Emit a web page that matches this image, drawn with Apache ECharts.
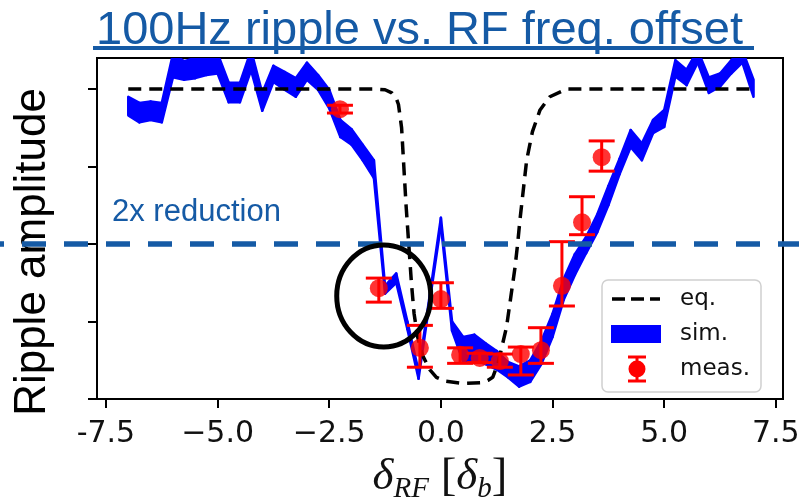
<!DOCTYPE html>
<html>
<head>
<meta charset="utf-8">
<script src="https://cdn.jsdelivr.net/npm/echarts@6/dist/echarts.min.js"></script>
<style>
  html, body { margin: 0; padding: 0; background: #fff; }
  #chart { width: 799px; height: 503px; }
</style>
</head>
<body>
<div id="chart"></div>
<script>
// Simulated ripple band (lower / upper envelope) vs RF detuning
const simX = [-7.0, -6.75, -6.5, -6.25, -6.0, -5.75, -5.5, -5.25, -5.0, -4.75, -4.5, -4.25, -4.0, -3.75, -3.5, -3.25,
  -3.0, -2.75, -2.5, -2.25, -2.0, -1.75, -1.5, -1.25, -1.0, -0.75, -0.5, -0.25, 0.0, 0.25, 0.5, 0.75, 1.0, 1.25,
  1.5, 1.75, 2.0, 2.25, 2.5, 2.75, 3.0, 3.25, 3.5, 3.75, 4.0, 4.25, 4.5, 4.75, 5.0, 5.25, 5.5, 5.75, 6.0, 6.25,
  6.5, 6.75, 7.0];
const simLow = [3.66, 3.57, 3.60, 3.57, 4.15, 4.12, 4.14, 4.18, 4.20, 3.83, 3.83, 4.24, 3.72, 4.09, 3.99, 3.90,
  4.12, 3.99, 3.75, 3.38, 3.28, 3.08, 2.85, 1.36, 1.50, 0.90, 0.26, 1.26, 2.24, 0.88, 0.48, 0.50, 0.45, 0.38,
  0.28, 0.16, 0.22, 0.45, 0.80, 1.28, 1.60, 1.88, 2.15, 2.50, 2.90, 3.25, 3.08, 3.43, 3.51, 4.16, 4.05, 4.34, 3.95, 4.03,
  4.20, 4.34, 3.90];
const simHigh = [3.90, 3.82, 3.84, 3.82, 4.45, 4.36, 4.40, 4.46, 4.46, 4.08, 4.08, 4.50, 3.95, 4.30, 4.22, 4.14,
  4.34, 4.18, 3.99, 3.60, 3.48, 3.28, 3.08, 1.46, 1.62, 1.00, 0.36, 1.34, 2.34, 1.00, 0.80, 0.83, 0.72, 0.62,
  0.48, 0.42, 0.50, 0.75, 1.10, 1.55, 1.87, 2.09, 2.38, 2.75, 3.10, 3.47, 3.30, 3.60, 3.73, 4.37, 4.25, 4.50, 4.15, 4.20,
  4.37, 4.50, 4.12];

// Equilibrium (analytic) curve
const eqX = [-7.0, -1.5, -1.25, -1.1, -1.0, -0.95, -0.88, -0.83, -0.78, -0.72, -0.66, -0.6, -0.52, -0.4, -0.25, -0.1,
  0.1, 0.5, 0.9, 1.05, 1.16, 1.28, 1.47, 1.66, 1.72, 1.77, 1.92, 2.05, 2.22, 2.44, 2.82, 7.0];
const eqY = [4.0, 4.0, 3.99, 3.95, 3.88, 3.8, 3.5, 3.0, 2.5, 2.0, 1.5, 1.1, 0.8, 0.55, 0.38, 0.28,
  0.23, 0.2, 0.21, 0.24, 0.28, 0.46, 0.93, 1.7, 2.01, 2.31, 3.08, 3.45, 3.73, 3.9, 4.0, 4.0];

// Measurements with error bars
const measX = [-2.26, -1.39, -0.47, 0.0, 0.43, 0.87, 1.32, 1.79, 2.24, 2.71, 3.16, 3.6];
const measY = [3.74, 1.43, 0.66, 1.29, 0.57, 0.53, 0.49, 0.58, 0.63, 1.46, 2.28, 3.12];
const measLo = [3.69, 1.25, 0.41, 1.17, 0.46, 0.47, 0.41, 0.31, 0.46, 1.20, 2.12, 2.94];
const measHi = [3.79, 1.56, 0.95, 1.50, 0.66, 0.59, 0.58, 0.67, 0.92, 2.03, 2.61, 3.33];

// Axis ticks and reference level
const xTicks = [-7.5, -5.0, -2.5, 0.0, 2.5, 5.0, 7.5];
const yTicks = [0, 1, 2, 3, 4];
const halfLevel = 2;          // "2x reduction" level (plateau = 4)
const circledPoint = [-1.28, 1.33];

const BLUE = '#0000ff';
const RED = '#ff0000';
const NAVY = '#155aa5';

const chart = echarts.init(document.getElementById('chart'), null, { renderer: 'canvas' });

function tickLabel(v) {
  if (v === -7.5) return '-7.5';
  if (v < 0) return '\u2212' + Math.abs(v).toFixed(1);
  return v.toFixed(1);
}

const option = {
  animation: false,
  backgroundColor: '#fff',
  title: {
    text: '100Hz ripple vs. RF freq. offset',
    left: 91, top: 3,
    textStyle: { fontFamily: 'Liberation Sans', fontSize: 47, fontWeight: 'normal', color: NAVY }
  },
  grid: { left: 97, top: 58, width: 686, height: 341, show: true, borderColor: '#000', borderWidth: 2,
          containLabel: false, outerBoundsMode: 'none' },
  xAxis: {
    type: 'value', min: -7.7, max: 7.66,
    axisLine: { show: false, onZero: false },
    splitLine: { show: false },
    axisTick: { show: true, inside: false, length: 9, lineStyle: { color: '#000', width: 2 }, customValues: xTicks },
    axisLabel: { customValues: xTicks, formatter: tickLabel, fontFamily: 'DejaVu Sans', fontSize: 30, color: '#111', margin: 20 },
    name: '{i|δ}{s|RF}{n| [}{i|δ}{s|b}{n|]}',
    nameLocation: 'middle', nameGap: 49,
    nameTextStyle: {
      rich: {
        i: { fontFamily: 'Liberation Serif', fontStyle: 'italic', fontSize: 45, color: '#111', lineHeight: 52, verticalAlign: 'middle' },
        s: { fontFamily: 'Liberation Serif', fontStyle: 'italic', fontSize: 29, color: '#111', lineHeight: 29, verticalAlign: 'bottom' },
        n: { fontFamily: 'Liberation Serif', fontSize: 47, color: '#111', lineHeight: 52, verticalAlign: 'middle' }
      }
    }
  },
  yAxis: {
    type: 'value', min: 0, max: 4.4,
    axisLine: { show: false, onZero: false },
    splitLine: { show: false },
    axisTick: { show: true, inside: false, length: 9, lineStyle: { color: '#000', width: 2 }, customValues: yTicks },
    axisLabel: { show: false }
  },
  series: [
    {
      // simulation envelope drawn as a filled band, one quad per interval
      name: 'sim.', type: 'custom', silent: true, clip: true, z: 2,
      encode: { x: 0, y: [1, 2] },
      data: simX.map((x, i) => [x, simLow[i], simHigh[i]]),
      renderItem: function (params, api) {
        const i = params.dataIndex;
        if (i >= simX.length - 1) return null;
        const a0 = api.coord([simX[i], simLow[i]]);
        const a1 = api.coord([simX[i], simHigh[i]]);
        const b0 = api.coord([simX[i + 1], simLow[i + 1]]);
        const b1 = api.coord([simX[i + 1], simHigh[i + 1]]);
        return {
          type: 'polygon',
          shape: { points: [a0, b0, b1, a1] },
          style: { fill: BLUE, stroke: BLUE, lineWidth: 2.5, lineJoin: 'round' }
        };
      }
    },
    {
      name: 'eq.', type: 'line', showSymbol: false, silent: true,
      lineStyle: { color: '#000', width: 3.5, type: [13, 8] },
      data: eqX.map((x, i) => [x, eqY[i]]), z: 3
    },
    {
      name: 'err', type: 'custom', silent: true, z: 4,
      encode: { x: 0, y: [1, 2] },
      data: measX.map((x, i) => [x, measLo[i], measHi[i]]),
      renderItem: function (params, api) {
        const x = api.value(0);
        const pLo = api.coord([x, api.value(1)]);
        const pHi = api.coord([x, api.value(2)]);
        const hw = 13;
        const st = { stroke: RED, lineWidth: 3 };
        return {
          type: 'group', children: [
            { type: 'line', shape: { x1: pLo[0], y1: pLo[1], x2: pHi[0], y2: pHi[1] }, style: st },
            { type: 'line', shape: { x1: pLo[0] - hw, y1: pLo[1], x2: pLo[0] + hw, y2: pLo[1] }, style: st },
            { type: 'line', shape: { x1: pHi[0] - hw, y1: pHi[1], x2: pHi[0] + hw, y2: pHi[1] }, style: st }
          ]
        };
      }
    },
    {
      name: 'meas.', type: 'scatter', symbol: 'circle', symbolSize: 18, silent: true, z: 5,
      itemStyle: { color: RED },
      data: measX.map((x, i) => [x, measY[i]])
    }
  ]
};
chart.setOption(option);

// Overlays positioned from data coordinates
const halfPx = chart.convertToPixel({ gridIndex: 0 }, [0, halfLevel]);
const circPx = chart.convertToPixel({ gridIndex: 0 }, circledPoint);

chart.setOption({
  graphic: [
    // title underline
    { type: 'rect', shape: { x: 93, y: 46, width: 661, height: 4 }, style: { fill: NAVY }, z: 10 },
    // y-axis title
    { type: 'text', x: 33, y: 252, rotation: Math.PI / 2,
      style: { text: 'Ripple amplitude', fontFamily: 'Liberation Sans', fontSize: 44, fill: '#000',
               textAlign: 'center', textVerticalAlign: 'middle' }, z: 10 },
    // half-amplitude reference line across the full width
    { type: 'line', shape: { x1: 0, y1: halfPx[1], x2: 799, y2: halfPx[1] },
      style: { stroke: NAVY, lineWidth: 5.5, lineDash: [24, 18], lineDashOffset: 20 }, z: 20 },
    { type: 'text', x: 112, y: 228,
      style: { text: '2x reduction', fontFamily: 'Liberation Sans', fontSize: 31, fill: NAVY, textVerticalAlign: 'bottom' }, z: 20 },
    // highlight ring
    { type: 'ellipse', shape: { cx: circPx[0], cy: circPx[1], rx: 47, ry: 51 },
      style: { fill: null, stroke: '#000', lineWidth: 5 }, z: 30 },
    // legend
    { type: 'group', z: 40, children: [
      { type: 'rect', shape: { x: 602, y: 280, width: 159, height: 112, r: 6 },
        style: { fill: 'rgba(255,255,255,0.85)', stroke: '#d0d0d0', lineWidth: 1.5 } },
      { type: 'line', shape: { x1: 612, y1: 299, x2: 660, y2: 299 },
        style: { stroke: '#000', lineWidth: 3.5, lineDash: [13, 6] } },
      { type: 'rect', shape: { x: 611, y: 325, width: 50, height: 18 }, style: { fill: BLUE } },
      { type: 'line', shape: { x1: 637, y1: 357, x2: 637, y2: 381 }, style: { stroke: RED, lineWidth: 3 } },
      { type: 'line', shape: { x1: 628, y1: 357, x2: 646, y2: 357 }, style: { stroke: RED, lineWidth: 3 } },
      { type: 'line', shape: { x1: 628, y1: 381, x2: 646, y2: 381 }, style: { stroke: RED, lineWidth: 3 } },
      { type: 'circle', shape: { cx: 637, cy: 369, r: 8.5 }, style: { fill: RED } },
      { type: 'text', x: 680, y: 299, style: { text: 'eq.', fontFamily: 'DejaVu Sans', fontSize: 23, fill: '#111', textVerticalAlign: 'middle' } },
      { type: 'text', x: 680, y: 334, style: { text: 'sim.', fontFamily: 'DejaVu Sans', fontSize: 23, fill: '#111', textVerticalAlign: 'middle' } },
      { type: 'text', x: 680, y: 369, style: { text: 'meas.', fontFamily: 'DejaVu Sans', fontSize: 23, fill: '#111', textVerticalAlign: 'middle' } }
    ] }
  ]
});
</script>
</body>
</html>
